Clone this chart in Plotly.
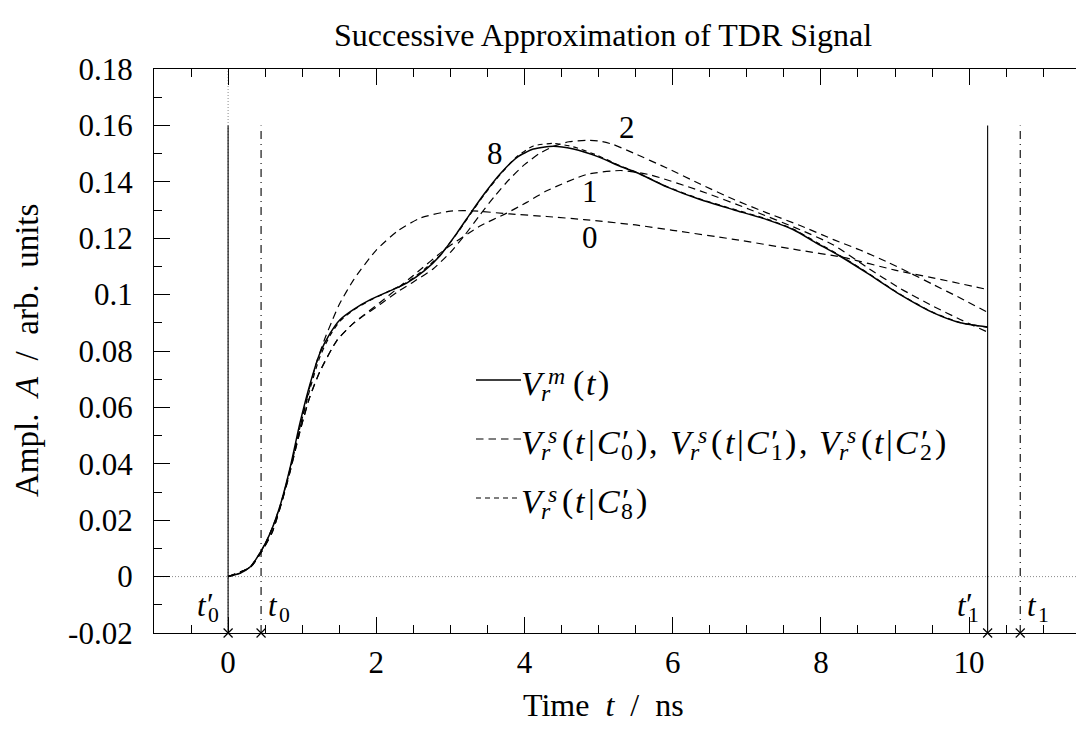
import plotly.graph_objects as go

# ---------------------------------------------------------------- data
# measured reflected signal V_r^m(t)
t_meas = [0.0, 0.16, 0.30, 0.445, 0.57, 0.70, 0.84, 0.97, 1.11, 1.24, 1.38, 1.51, 1.69,
          1.92, 2.14, 2.41, 2.65, 2.86, 3.09, 3.27, 3.45, 3.67, 3.90, 4.12, 4.39, 4.66,
          4.98, 5.29, 5.52, 5.92, 6.37, 6.82, 7.27, 7.63, 7.94, 8.26, 8.62, 9.07, 9.52,
          9.88, 10.25]
v_meas = [0.0, 0.0012, 0.0035, 0.0090, 0.0155, 0.0250, 0.0390, 0.0545, 0.0687, 0.0793,
          0.0864, 0.0911, 0.0947, 0.0982, 0.1008, 0.1041, 0.1085, 0.1138, 0.1219, 0.1288,
          0.1355, 0.1428, 0.1487, 0.1516, 0.1526, 0.1516, 0.1490, 0.1455, 0.1432, 0.1382,
          0.1337, 0.1301, 0.1266, 0.1230, 0.1183, 0.1136, 0.1077, 0.1000, 0.0935, 0.0900,
          0.0885]

# simulated signal after 8 iterations, V_r^s(t|C'_8)
t_c8 = [0.0, 0.16, 0.30, 0.445, 0.57, 0.70, 0.84, 0.97, 1.11, 1.24, 1.38, 1.51, 1.69,
        1.92, 2.14, 2.41, 2.65, 2.86, 3.09, 3.27, 3.45, 3.67, 3.90, 4.12, 4.39, 4.66,
        4.98, 5.29, 5.52, 5.92, 6.37, 6.82, 7.27, 7.63, 7.94, 8.26, 8.62, 9.07, 9.52,
        9.88, 10.25]
v_c8 = [0.0, 0.0012, 0.0035, 0.0090, 0.0155, 0.0250, 0.0380, 0.0530, 0.0670, 0.0780,
        0.0857, 0.0906, 0.0945, 0.0980, 0.1008, 0.1043, 0.1090, 0.1140, 0.1217, 0.1285,
        0.1352, 0.1425, 0.1490, 0.1527, 0.1536, 0.1524, 0.1494, 0.1457, 0.1433, 0.1383,
        0.1339, 0.1303, 0.1268, 0.1232, 0.1186, 0.1138, 0.1079, 0.1001, 0.0936, 0.0901,
        0.0884]

# initial guess C'_0
t_c0 = [0.0, 0.3, 0.5, 0.7, 0.9, 1.1, 1.2, 1.3, 1.4, 1.5, 1.7, 2.0, 2.3, 2.6, 3.0, 3.3,
        3.8, 4.3, 4.8, 5.5, 6.0, 6.8, 7.7, 8.3, 9.0, 9.7, 10.25]
v_c0 = [0.0, 0.0035, 0.0115, 0.0245, 0.0450, 0.0670, 0.0765, 0.0840, 0.0905, 0.0965,
        0.1055, 0.1158, 0.1228, 0.1272, 0.1296, 0.1297, 0.1286, 0.1277, 0.1266, 0.1247,
        0.1228, 0.1197, 0.1158, 0.1132, 0.1087, 0.1049, 0.1018]

# first iteration C'_1
t_c1 = [0.0, 0.3, 0.445, 0.6, 0.8, 0.97, 1.1, 1.24, 1.47, 1.69, 2.05, 2.3, 2.5, 2.95,
        3.4, 3.76, 4.03, 4.3, 4.84, 5.3, 5.69, 6.37, 7.04, 7.72, 8.17, 8.62, 9.07, 9.52,
        9.88, 10.25]
v_c1 = [0.0, 0.0033, 0.0085, 0.0160, 0.0335, 0.0515, 0.0635, 0.0728, 0.0838, 0.0898,
        0.0972, 0.1025, 0.1068, 0.1165, 0.1243, 0.1289, 0.1327, 0.1368, 0.1426, 0.1440,
        0.1425, 0.1368, 0.1302, 0.1230, 0.1176, 0.1097, 0.1022, 0.0958, 0.0912, 0.0867]

# second iteration C'_2
t_c2 = [0.0, 0.3, 0.445, 0.6, 0.8, 0.97, 1.1, 1.24, 1.47, 1.69, 2.05, 2.3, 2.5, 2.77,
        3.0, 3.2, 3.4, 3.6, 3.8, 4.0, 4.2, 4.4, 4.6, 4.84, 5.02, 5.2, 5.47, 5.92, 6.37,
        6.82, 7.27, 7.72, 8.17, 8.53, 8.9, 9.2, 9.52, 9.88, 10.25]
v_c2 = [0.0, 0.0033, 0.0085, 0.0160, 0.0335, 0.0515, 0.0635, 0.0728, 0.0838, 0.0898,
        0.0965, 0.1012, 0.1045, 0.1092, 0.1150, 0.1213, 0.1283, 0.1350, 0.1410, 0.1461,
        0.1500, 0.1527, 0.1542, 0.1547, 0.1544, 0.1532, 0.1502, 0.1449, 0.1392, 0.1338,
        0.1290, 0.1245, 0.1195, 0.1158, 0.1115, 0.1077, 0.1035, 0.0988, 0.0937]

# window limits: t'_0, t_0, t'_1, t_1
t_marks = [0.0, 0.445, 10.25, 10.69]
mark_top = 0.16
y_floor = -0.02

# iteration numbers written next to the curves
curve_labels = ["8", "2", "1", "0"]
label_t = [3.60, 5.38, 4.885, 4.885]
label_v = [0.1502, 0.1591, 0.1366, 0.1201]

x_ticks = [0, 2, 4, 6, 8, 10]
x_ticktext = ["0", "2", "4", "6", "8", "10"]
y_ticks = [-0.02, 0.0, 0.02, 0.04, 0.06, 0.08, 0.10, 0.12, 0.14, 0.16, 0.18]
y_ticktext = ["-0.02", "0", "0.02", "0.04", "0.06", "0.08", "0.1", "0.12", "0.14",
              "0.16", "0.18"]

# ---------------------------------------------------------------- style
FONT = "Liberation Serif"
FS = 31                 # tick labels, curve numbers
FS_TITLE = 32           # title and x-axis title
FS_YTITLE = 33          # y-axis title
FS_MATH = 34            # key entries
DESC = 0.216            # font descent (em), used to put text on a baseline
SCRIPT = 0.7
SUB = 0.18
SUP = 0.33
NB = "\u00a0"

L, R, T, B = 154, 1076, 69, 633          # plot frame in pixels
W, H = R - L, B - T
X0 = -1.0
X1 = X0 + W / 74.1
DASH_LONG = "7.5px,5px"
DASH_SHORT = "5px,4px"
DASH_DOT = "8px,5px,1px,5px"


def px(x):
    return (x - L) / W


def py(y):
    return (B - y) / H


fig = go.Figure()

# measured and simulated curves
for tx, vy in [(t_c0, v_c0), (t_c1, v_c1), (t_c2, v_c2)]:
    fig.add_trace(go.Scatter(x=tx, y=vy, mode="lines",
                             line=dict(color="black", width=1.2, dash=DASH_LONG,
                                       shape="spline", smoothing=0.6)))
fig.add_trace(go.Scatter(x=t_c8, y=v_c8, mode="lines",
                         line=dict(color="black", width=1.2, dash=DASH_SHORT,
                                   shape="spline", smoothing=0.6)))
fig.add_trace(go.Scatter(x=t_meas, y=v_meas, mode="lines",
                         line=dict(color="black", width=1.5, shape="spline", smoothing=0.6)))

# window limit lines
for t, d in zip(t_marks, ["solid", DASH_DOT, "solid", DASH_DOT]):
    fig.add_trace(go.Scatter(x=[t, t], y=[y_floor, mark_top], mode="lines",
                             line=dict(color="black", width=1.1, dash=d)))
fig.add_trace(go.Scatter(x=t_marks, y=[y_floor] * len(t_marks), mode="markers",
                         cliponaxis=False,
                         marker=dict(symbol="x-thin", size=9, color="black",
                                     line=dict(color="black", width=1.2))))

# dotted zero axes
fig.add_shape(type="line", xref="paper", yref="y", x0=0, x1=1, y0=0, y1=0, layer="below",
              line=dict(color="#8a8a8a", width=1, dash="1px,2px"))
fig.add_shape(type="line", xref="x", yref="paper", x0=0, x1=0, y0=0, y1=1, layer="below",
              line=dict(color="#8a8a8a", width=1, dash="1px,2px"))


def put(text, x, y, xref, yref, size, dx, rise):
    fig.add_annotation(text=text, x=x, y=y, xref=xref, yref=yref, xanchor="left",
                       yanchor="bottom", xshift=dx, yshift=rise - DESC * size,
                       showarrow=False, borderpad=0, borderwidth=0,
                       font=dict(family=FONT, size=size, color="black"))


# advance widths (em) for a TeX-like math layout
ADV_IT = {"V": 0.583, "t": 0.361, "C": 0.715}
ICORR = {"V": 0.222, "t": 0.0, "C": 0.072}
ADV_RM = {"(": 0.389, ")": 0.389, "|": 0.278, ",": 0.278, " ": 0.333}
ADV_SC = {"r": 0.36, "s": 0.37, "m": 0.68, "0": 0.40, "1": 0.40, "2": 0.40, "8": 0.40,
          "\u2032": 0.27}
ITALIC_SC = {"r", "s", "m"}


def script_text(ch):
    return f"<i>{ch}</i>" if ch in ITALIC_SC else ch


def typeset(tokens, x, y, xref, yref, size, dx=0.0):
    prev = None
    for tok in tokens:
        if tok[0] in ("it", "rm"):
            ch = tok[1]
            put(f"<i>{ch}</i>" if tok[0] == "it" else ch, x, y, xref, yref, size, dx, 0)
            dx += (ADV_IT if tok[0] == "it" else ADV_RM)[ch] * size
            prev = ch
        else:
            _, sub, sup = tok
            s = SCRIPT * size
            w = 0.0
            if sub:
                put(script_text(sub), x, y, xref, yref, s, dx, -SUB * size)
                w = ADV_SC[sub] * size
            if sup:
                ic = ICORR.get(prev, 0.0) * size
                if sup == "\u2032":
                    put(sup, x, y, xref, yref, size, dx + ic - 0.05 * size, 0.04 * size)
                else:
                    put(script_text(sup), x, y, xref, yref, s, dx + ic, SUP * size)
                w = max(w, ic + ADV_SC[sup] * size)
            dx += w + 0.035 * size
    return dx


# labels of the window limits below the curves
label_y = -0.0142
t_names = [("0", True), ("0", False), ("1", True), ("1", False)]
for t, (idx, primed) in zip(t_marks, t_names):
    toks = [("it", "t"), ("ss", idx, "\u2032" if primed else None)]
    typeset(toks, t, label_y, "x", "y", FS, dx=-31 if primed else 7)

# iteration numbers
for txt, tx, ty in zip(curve_labels, label_t, label_v):
    fig.add_annotation(text=txt, x=tx, y=ty, xref="x", yref="y", showarrow=False,
                       xanchor="center", yanchor="middle",
                       font=dict(family=FONT, size=FS, color="black"))

# key
key_rows = [
    ("solid", 1.5, [("it", "V"), ("ss", "r", "m"), ("rm", "("), ("it", "t"), ("rm", ")")]),
    (DASH_LONG, 1.2, []),
    (DASH_SHORT, 1.2, [("it", "V"), ("ss", "r", "s"), ("rm", "("), ("it", "t"), ("rm", "|"),
                       ("it", "C"), ("ss", "8", "\u2032"), ("rm", ")")]),
]
for k in ["0", "1", "2"]:
    if k != "0":
        key_rows[1][2].extend([("rm", ","), ("rm", " ")])
    key_rows[1][2].extend([("it", "V"), ("ss", "r", "s"), ("rm", "("), ("it", "t"), ("rm", "|"),
                           ("it", "C"), ("ss", k, "\u2032"), ("rm", ")")])
key_line_y = [380, 439, 498]
for (dash, lw, toks), ly in zip(key_rows, key_line_y):
    fig.add_shape(type="line", xref="paper", yref="paper", x0=px(476), x1=px(521),
                  y0=py(ly), y1=py(ly), line=dict(color="black", width=lw, dash=dash))
    typeset(toks, px(521), py(ly + 15), "paper", "paper", FS_MATH)

# title and axis titles
fig.add_annotation(text="Successive Approximation of TDR Signal", x=px(603), y=py(35),
                   xref="paper", yref="paper", showarrow=False, xanchor="center",
                   yanchor="middle", font=dict(family=FONT, size=FS_TITLE, color="black"))
fig.add_annotation(text=f"Time{NB} <i>t</i>{NB} /{NB} ns", x=px(603), y=py(705),
                   xref="paper", yref="paper", showarrow=False, xanchor="center",
                   yanchor="middle", font=dict(family=FONT, size=FS_TITLE, color="black"))
fig.add_annotation(text=f"Ampl.{NB} <i>A</i>{NB} /{NB} arb.{NB} units", x=px(27), y=0.5,
                   textangle=-90, xref="paper", yref="paper", showarrow=False,
                   xanchor="center", yanchor="middle",
                   font=dict(family=FONT, size=FS_YTITLE, color="black"))

fig.update_layout(
    width=1076, height=731,
    margin=dict(l=L, r=1076 - R, t=T, b=731 - B, pad=0),
    paper_bgcolor="white", plot_bgcolor="white", showlegend=False,
    font=dict(family=FONT, size=FS, color="black"),
)
fig.update_xaxes(
    range=[X0, X1], tickmode="array", tickvals=x_ticks, ticktext=x_ticktext,
    ticks="inside", ticklen=16, tickwidth=1.1, tickcolor="black",
    showline=True, linecolor="black", linewidth=1.3, mirror="ticks",
    showgrid=False, zeroline=False, ticklabelstandoff=2,
    tickfont=dict(family=FONT, size=FS, color="black"),
    minor=dict(tickmode="linear", tick0=0, dtick=0.5, ticks="inside", ticklen=8,
               tickwidth=1.1, tickcolor="black", showgrid=False),
)
fig.update_yaxes(
    range=[y_floor, 0.18], tickmode="array", tickvals=y_ticks, ticktext=y_ticktext,
    ticks="inside", ticklen=16, tickwidth=1.1, tickcolor="black",
    showline=True, linecolor="black", linewidth=1.3, mirror=False,
    showgrid=False, zeroline=False, ticklabelstandoff=14,
    tickfont=dict(family=FONT, size=FS, color="black"),
    minor=dict(tickmode="linear", tick0=0, dtick=0.01, ticks="inside", ticklen=8,
               tickwidth=1.1, tickcolor="black", showgrid=False),
)

fig.write_html("out.html", config={"displayModeBar": False})
